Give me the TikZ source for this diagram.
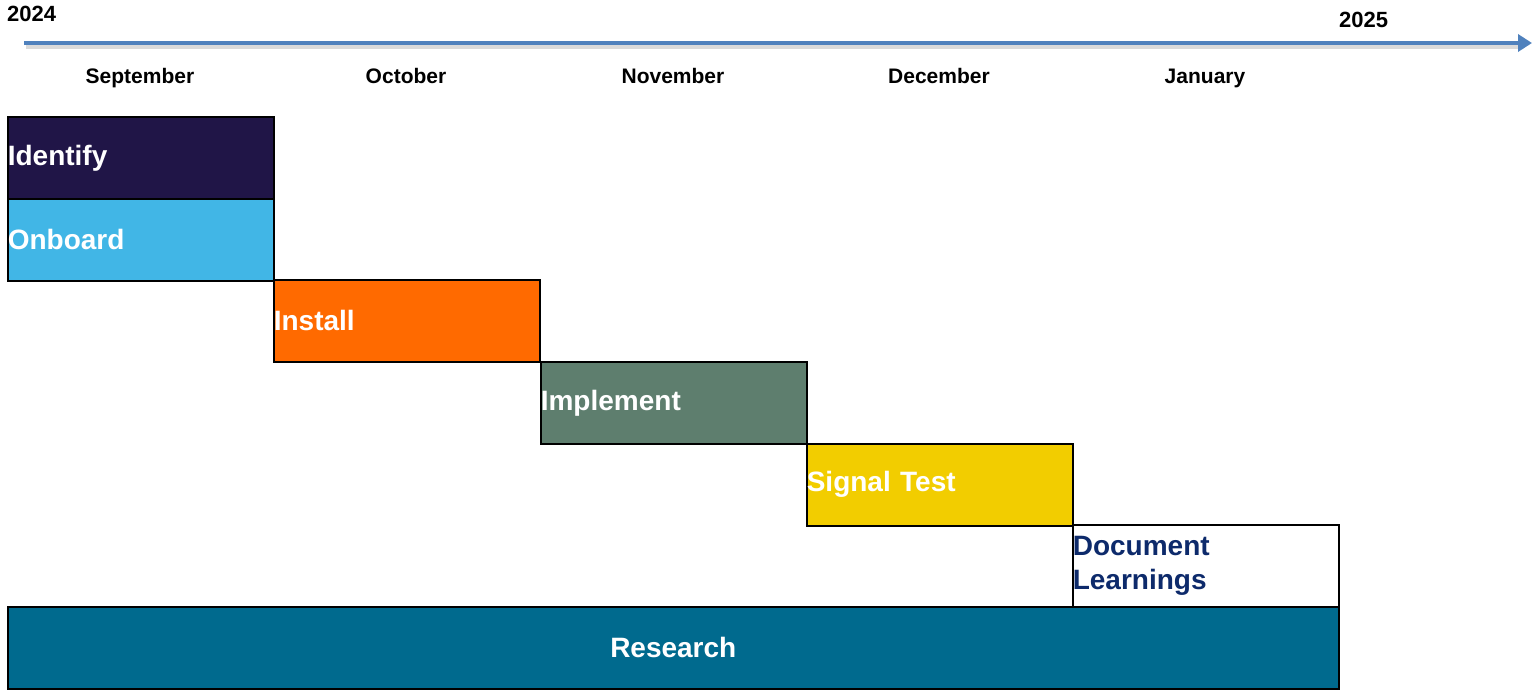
\documentclass[tikz,border=0pt]{standalone}
\usepackage{fontspec}
\setmainfont{Liberation Sans}
\usetikzlibrary{arrows.meta}
\definecolor{axisblue}{HTML}{4F81BD}
\definecolor{cIdentify}{HTML}{201547}
\definecolor{cOnboard}{HTML}{41B6E6}
\definecolor{cInstall}{HTML}{FF6A00}
\definecolor{cImplement}{HTML}{5E7E6E}
\definecolor{cSignal}{HTML}{F2CD00}
\definecolor{cResearch}{HTML}{006A8E}
\definecolor{docblue}{HTML}{0D2A6B}
\tikzset{
  phase/.style={draw=black, line width=1.6pt, anchor=north west, minimum width=266pt, minimum height=82pt,
    text width=266pt, align=left, inner xsep=0pt, inner ysep=0pt, text=white,
    font=\bfseries\fontsize{28}{34}\selectfont},
  month/.style={font=\bfseries\fontsize{21}{25}\selectfont, inner sep=0pt, anchor=base},
  year/.style={font=\bfseries\fontsize{22}{26}\selectfont, inner sep=0pt}
}
\begin{document}
\begin{tikzpicture}[x=1pt,y=1pt]
\useasboundingbox (0,0) rectangle (1532,-690);
% axis
\coordinate (a0) at (24,-43);
\coordinate (a1) at (1532,-43);
\coordinate (s0) at (26,-47);
\coordinate (s1) at (1520,-47);
\draw[line width=4pt, black!18, opacity=0.8] (s0) -- (s1);
\draw[line width=4pt, axisblue, -{Triangle[length=14pt,width=17pt]}] (a0) -- (a1);
\node[year, anchor=west] (y24) at (7,-14) {2024};
\node[year, anchor=west] (y25) at (1339,-20) {2025};
% months
\node[month] (m1) at (140,-84) {September};
\node[month] (m2) at (406,-84) {October};
\node[month] (m3) at (673,-84) {November};
\node[month] (m4) at (939,-84) {December};
\node[month] (m5) at (1205,-84) {January};
% phases
\node[phase, fill=cIdentify] (identify) at (7,-116) {Identify};
\node[phase, fill=cOnboard] (onboard) at (7,-198) {Onboard};
\node[phase, fill=cInstall] (install) at (273,-279) {Install};
\node[phase, fill=cImplement] (implement) at (540,-361) {Implement};
\node[phase, fill=cSignal] (signal) at (806,-443) {Signal Test};
\node[phase, fill=white, text=docblue] (doc) at (1072,-524) {Document\\Learnings};
\node[phase, fill=cResearch, minimum width=1331pt, text width=1331pt, align=center] (research) at (7,-606) {Research};
\end{tikzpicture}
\end{document}
